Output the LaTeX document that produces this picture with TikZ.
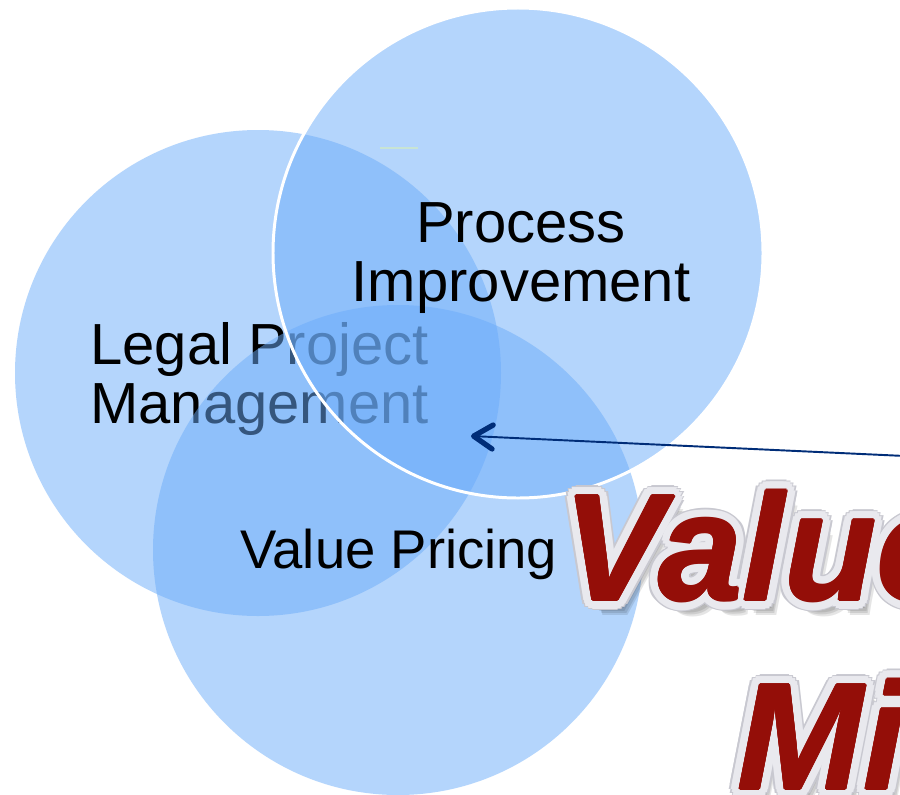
\documentclass[tikz,border=0pt]{standalone}
\usepackage{fontspec}
\setmainfont{Liberation Sans}
\usetikzlibrary{arrows.meta}
\definecolor{circblue}{RGB}{107,172,250}
\definecolor{arrownavy}{RGB}{0,45,120}
\definecolor{titlered}{RGB}{148,14,8}
\definecolor{rimgrey}{RGB}{233,233,238}
\definecolor{rimedge}{RGB}{200,200,208}
\definecolor{specgreen}{RGB}{200,228,212}

\begin{document}
\begin{tikzpicture}[x=0.02cm, y=-0.02cm,
    disc/.style={fill=circblue, fill opacity=0.5},
    circtext/.style={font=\fontsize{33}{34}\selectfont, text=black, inner sep=0pt},
    banner/.style={font=\fontsize{86}{86}\selectfont\bfseries\itshape,
                   inner sep=0pt, anchor=base west}]
    \clip (0,0) rectangle (900,795);
    \fill[white] (0,0) rectangle (900,795);

    % the three circles, text of the first one sits under the others
    \fill[disc] (258,373) circle (243);
    \node[circtext, align=left, anchor=west] (lpm) at (90,379) {Legal Project\\Management};
    \fill[disc] (398,550) circle (245);
    \filldraw[disc, draw=white, line width=1.7pt] (518,253) circle (245);
    \draw[specgreen, line width=0.6pt] (380,148) -- (418,148);

    \node[circtext, align=center] (proc) at (521,258) {Process\\Improvement};
    \node[circtext, font=\fontsize{31}{34}\selectfont, anchor=base west] (vp) at (240,568) {Value Pricing};

    % pointer into the overlap
    \coordinate (tail) at (905,456);
    \coordinate (tip) at (471,436);
    \draw[arrownavy, line width=1.1pt,
          -{Straight Barb[length=3.8mm, width=4.8mm, line width=3pt, round]}] (tail) -- (tip);

    % title lettering: shadow, rim, then red face
    \foreach \k in {1,...,7} {
        \node[banner, text=black, text opacity=0.1] (shV\k) at (563+1.5*\k,600+2.2*\k) {Value};
        \node[banner, text=black, text opacity=0.1] (shM\k) at (737+1.5*\k,789+2.2*\k) {Mi};
    }
    \foreach \k in {0,...,15} {
        \node[banner, text=rimedge] (edV\k) at ([shift={(\k*22.5:10.5)}]563,600) {Value};
        \node[banner, text=rimedge] (edM\k) at ([shift={(\k*22.5:10.5)}]737,789) {Mi};
    }
    \foreach \k in {0,...,15} {
        \node[banner, text=rimgrey] (rmV\k) at ([shift={(\k*22.5:9)}]563,600) {Value};
        \node[banner, text=rimgrey] (rmM\k) at ([shift={(\k*22.5:9)}]737,789) {Mi};
    }
    \foreach \k in {0,...,7} {
        \node[banner, text=titlered] (fcV\k) at ([shift={(\k*45:1.2)}]563,600) {Value};
        \node[banner, text=titlered] (fcM\k) at ([shift={(\k*45:1.2)}]737,789) {Mi};
    }
\end{tikzpicture}
\end{document}
